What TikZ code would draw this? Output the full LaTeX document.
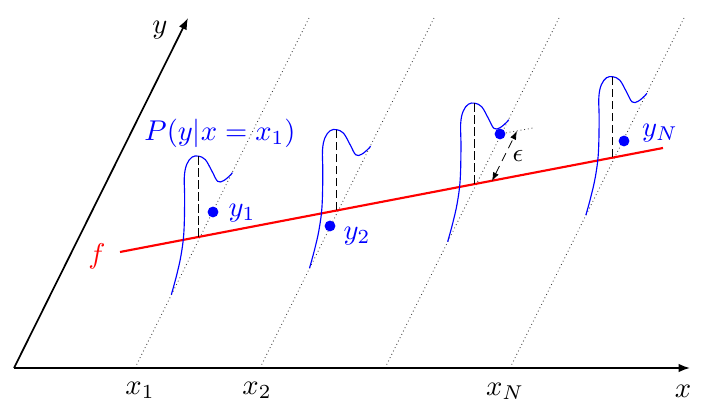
\documentclass[tikz,border=0pt]{standalone}
\usepackage{xcolor}
\usepackage{tikz}
\usetikzlibrary{arrows.meta, calc}

\tikzset{
  axis/.style={line width=0.6pt, -{Latex[length=4pt, width=3pt]}},
  guide/.style={densely dotted, black!75, line width=0.3pt},
  density/.style={blue, line width=0.4pt},
  peakline/.style={black, line width=0.4pt, dash pattern=on 3pt off 1.2pt},
  sample/.style={circle, fill=blue, inner sep=0pt, minimum size=3.8pt},
}

\begin{document}
\begin{tikzpicture}[x=0.35pt, y=-0.35pt]
    \useasboundingbox (0,0) rectangle (720,419);

    % axes
    \coordinate (o) at (14,368);
    \coordinate (xend) at (690,368);
    \coordinate (yend) at (188,18);

    % regression line
    \coordinate (fa) at (120,252);
    \coordinate (fb) at (663,148);

    % slanted guides, one per input value
    \foreach \k/\xb in {1/135, 2/260, 3/385, N/510}{
      \coordinate (b\k) at (\xb,368);
      \coordinate (t\k) at (\xb+174,18);
      \draw[guide] (b\k) -- (t\k);
      \coordinate (m\k) at (intersection of fa--fb and b\k--t\k);
    }

    \draw[axis] (o) -- (xend);
    \draw[axis] (o) -- (yend);
    \draw[red, line width=0.75pt] (fa) -- (fb);

    % conditional densities
    \foreach \k in {1,2,3,N}{
      \begin{scope}[shift={(m\k)}]
        \draw[density] plot[smooth, tension=0.6] coordinates {
          (-29,58) (-24,39.7) (-19.5,19.7) (-16.5,-3.7) (-15.7,-37)
          (-16,-60) (-13.5,-72.5) (-8.3,-79.5) (-2,-80.5) (5,-77)
          (11.7,-65.3) (17.3,-55.3) (23.3,-56) (30,-61.5) (32,-64)};
        \draw[peakline] (-2,0) -- (-2,-80.5);
      \end{scope}
    }

    % samples
    \node[sample] (d1) at (213,212) {};
    \node[sample] (d2) at (330,226) {};
    \node[sample] (d3) at (500,134) {};
    \node[sample] (dN) at (624,141) {};

    % residual
    \coordinate (eend) at (533,128);
    \coordinate (etop) at (517,131);
    \coordinate (ebot) at (492,181);
    \draw[guide] (d3) -- (eend);
    \draw[densely dashed, line width=0.3pt, {Latex[length=3pt, width=2.2pt]}-{Latex[length=3pt, width=2.2pt]}] (ebot) -- (etop);
    \node (eps) at (518,156) {\small$\epsilon$};

    % labels
    \node (ylab) at (160,30) {$y$};
    \node (xlab) at (683,391) {$x$};
    \node (x1lab) at (140,390) {$x_1$};
    \node (x2lab) at (257,390) {$x_2$};
    \node (xNlab) at (505,391) {$x_N$};
    \node[red] (flab) at (97,256) {$f$};
    \node[blue] (plab) at (220,133) {$P(y|x=x_1)$};
    \node[blue] (y1lab) at (242,213) {$y_1$};
    \node[blue] (y2lab) at (357,236) {$y_2$};
    \node[blue] (yNlab) at (660,133) {$y_N$};
\end{tikzpicture}
\end{document}
